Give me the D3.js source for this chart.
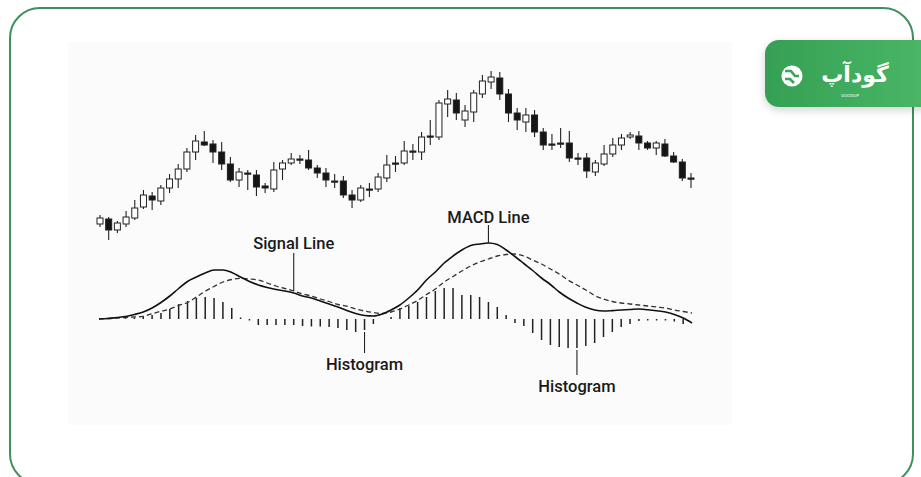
<!DOCTYPE html>
<html lang="en">
<head>
<meta charset="UTF-8">
<title>MACD Chart</title>
<script src="https://d3js.org/d3.v7.min.js"></script>
<style>
  html, body { margin: 0; padding: 0; background: #fff; }
  svg { display: block; }
  .label { font-family: Roboto, "Liberation Sans", sans-serif; font-size: 16.5px; font-weight: 500; fill: #1a1a1a; }
</style>
</head>
<body>
<svg id="chart" width="921" height="477"></svg>
<script>
// candle data (price units, higher = up)
var opens  = [26,31,20,26,32,43,54,49,62,71,81,98,108,106,98,86,70,77,75,64,61,81,87,91,90,82,77,69,69,55,50,61,61,72,87,87,99,98,114,113,146,150,130,138,156,168,172,156,137,128,135,118,106,107,107,92,92,78,86,96,105,113,114,107,102,106,94,88,72];
var closes = [32,20,27,33,42,55,50,62,71,81,98,109,105,98,86,70,78,76,63,62,80,87,91,90,82,77,70,68,55,50,62,60,73,85,86,99,98,113,113,147,151,137,139,157,169,173,156,137,130,135,118,105,105,106,92,91,79,87,96,105,112,115,107,102,107,94,88,72,71];
var highs  = [35,33,29,39,50,60,58,65,76,86,102,115,119,110,108,93,82,80,80,67,88,90,97,95,100,85,82,76,74,60,65,67,77,95,94,109,106,118,130,150,160,157,145,160,175,179,178,161,142,142,140,122,116,122,119,97,97,90,105,112,116,118,119,109,109,111,98,91,77];
var lows   = [23,10,17,23,30,41,40,45,57,62,78,90,104,87,80,68,63,60,54,57,58,70,85,86,80,72,63,62,52,42,48,53,58,68,78,85,90,90,105,110,133,130,123,128,152,161,150,128,120,118,113,100,100,102,88,85,72,74,84,93,100,111,100,100,95,93,87,69,62];

// MACD panel data
var macdLine   = [0,0.5,1.5,2.5,4.5,7,11,16.5,23,30.5,37.5,42,46,49,49,46.5,42,37.5,34,31.5,29.5,28,26,23,21,18,15,12,8.5,5.4,3.5,3,5,9,14,21,29,39,47,56,63,69,73.5,75,76,74.5,69,62.5,55.5,48.5,41,34.5,27,21,16,11.7,9,8,8.4,9,9.5,10,9.3,8.3,7,4.5,1,-4];
var signalLine = [0,0.5,1,1.5,2,2.7,5.3,7.7,10,13.5,16.5,22,27.7,32.5,37,39.5,40.6,40,39,36,33,30.5,28,25,23,20,17.5,14.5,12.8,10,8,6.5,5.5,7,10,14,18.5,24.5,30,37,42.5,48,53,57,60,63,64.5,65,63,59,55,50,45,39,34,29,23.5,20,17.5,16,15,14,13,12,11,9,7.5,6];
var histogram  = [0,0,0,0.8,1.2,2,4,6,10,15,18,21,22,21,17,11,1.5,-1.5,-6,-6,-6,-6,-6,-7,-7.5,-7.5,-8,-9,-11,-13,-11,-5,0,2,11,13,17,22,28,31,31,24,24,22,17,12,4,-4,-7,-14,-21,-26,-28,-29,-29,-27,-24,-18,-13,-8,-5,-2,-1.5,-1.5,-1.5,-2.5,-5,0];

// annotations: text, series, index
var labelTexts   = ["Signal Line", "MACD Line", "Histogram", "Histogram"];
var labelSeries  = ["signal", "macd", "hist", "hist"];
var labelIndex   = [22, 44, 30, 54];

var svg = d3.select("#chart");

// card
svg.append("rect")
  .attr("x", 10).attr("y", 8).attr("width", 903).attr("height", 476)
  .attr("rx", 30).attr("fill", "#fff")
  .attr("stroke", "#3f8f5f").attr("stroke-width", 2);

// faint plot panel
svg.append("rect")
  .attr("x", 68).attr("y", 42).attr("width", 664).attr("height", 383)
  .attr("fill", "#fbfbfb");

var defs = svg.append("defs");
var grad = defs.append("linearGradient").attr("id", "badgeGrad")
  .attr("x1", "0%").attr("x2", "100%");
grad.append("stop").attr("offset", "0%").attr("stop-color", "#35a053");
grad.append("stop").attr("offset", "100%").attr("stop-color", "#4bb868");
var shadow = defs.append("filter").attr("id", "shadow")
  .attr("x", "-20%").attr("y", "-30%").attr("width", "140%").attr("height", "170%");
shadow.append("feDropShadow").attr("dx", 0).attr("dy", 3).attr("stdDeviation", 4)
  .attr("flood-color", "#000").attr("flood-opacity", 0.18);

// scales
var n = opens.length;
var x = d3.scaleLinear().domain([0, n - 1]).range([100, 691]);
var y = d3.scaleLinear().domain([0, 180]).range([250, 70]);
var xm = d3.scaleLinear().domain([0, macdLine.length - 1]).range([99, 692]);
var ym = d3.scaleLinear().domain([-40, 80]).range([359, 239]);

var candles = d3.range(n).map(function(i) {
  return { i: i, o: opens[i], c: closes[i], h: highs[i], l: lows[i] };
});

var bodyW = 6;
var cg = svg.append("g");
cg.selectAll("line.wick").data(candles).join("line")
  .attr("x1", function(d) { return x(d.i); })
  .attr("x2", function(d) { return x(d.i); })
  .attr("y1", function(d) { return y(d.h); })
  .attr("y2", function(d) { return y(d.l); })
  .attr("stroke", "#222").attr("stroke-width", 1.1);

cg.selectAll("rect.body").data(candles).join("rect")
  .attr("x", function(d) { return x(d.i) - bodyW / 2; })
  .attr("y", function(d) { return y(Math.max(d.o, d.c)); })
  .attr("width", bodyW)
  .attr("height", function(d) { return Math.max(1.2, Math.abs(y(d.o) - y(d.c))); })
  .attr("fill", function(d) { return d.c > d.o ? "#fff" : "#151515"; })
  .attr("stroke", "#222").attr("stroke-width", 1);

// histogram
var hg = svg.append("g");
hg.selectAll("line").data(histogram.map(function(v, i) { return { i: i, v: v }; })
    .filter(function(d) { return d.v !== 0; }))
  .join("line")
  .attr("x1", function(d) { return xm(d.i); })
  .attr("x2", function(d) { return xm(d.i); })
  .attr("y1", ym(0))
  .attr("y2", function(d) { return ym(d.v); })
  .attr("stroke", "#222").attr("stroke-width", 1.5);

// lines
var line = d3.line()
  .x(function(d, i) { return xm(i); })
  .y(function(d) { return ym(d); })
  .curve(d3.curveMonotoneX);

svg.append("path").datum(signalLine)
  .attr("d", line).attr("fill", "none")
  .attr("stroke", "#333").attr("stroke-width", 1.3)
  .attr("stroke-dasharray", "5,3");

svg.append("path").datum(macdLine)
  .attr("d", line).attr("fill", "none")
  .attr("stroke", "#111").attr("stroke-width", 1.6);

// annotations
var ag = svg.append("g");
labelTexts.forEach(function(t, k) {
  var i = labelIndex[k];
  var px = xm(i);
  if (labelSeries[k] === "signal") {
    ag.append("line").attr("x1", px).attr("x2", px)
      .attr("y1", 253).attr("y2", ym(signalLine[i]))
      .attr("stroke", "#222").attr("stroke-width", 1.1);
    ag.append("text").attr("class", "label").attr("x", px).attr("y", 249)
      .attr("text-anchor", "middle").text(t);
  } else if (labelSeries[k] === "macd") {
    ag.append("line").attr("x1", px).attr("x2", px)
      .attr("y1", 225).attr("y2", ym(macdLine[i]))
      .attr("stroke", "#222").attr("stroke-width", 1.1);
    ag.append("text").attr("class", "label").attr("x", px).attr("y", 223)
      .attr("text-anchor", "middle").text(t);
  } else {
    var top = ym(histogram[i]) + 2;
    var bottom = top + 21;
    if (k === 3) bottom = top + 25;
    ag.append("line").attr("x1", px).attr("x2", px)
      .attr("y1", top).attr("y2", bottom)
      .attr("stroke", "#222").attr("stroke-width", 1.1);
    ag.append("text").attr("class", "label").attr("x", px).attr("y", bottom + 17)
      .attr("text-anchor", "middle").text(t);
  }
});

// logo badge
var badge = svg.append("g");
badge.append("rect")
  .attr("x", 765).attr("y", 40).attr("width", 175).attr("height", 67)
  .attr("rx", 14).attr("fill", "url(#badgeGrad)").attr("filter", "url(#shadow)");
badge.append("circle").attr("cx", 792).attr("cy", 76).attr("r", 10.5).attr("fill", "#fff");
badge.append("path")
  .attr("d", "M785,71 L791,71 L795,76 L799,76 M785,79 L790,79 L794,83")
  .attr("fill", "none").attr("stroke", "#3aa457").attr("stroke-width", 2.6);
badge.append("text")
  .attr("x", 855).attr("y", 82).attr("text-anchor", "middle")
  .attr("direction", "rtl")
  .style("font-family", "'DejaVu Sans', sans-serif").style("font-weight", "bold")
  .style("font-size", "22px").attr("fill", "#fff")
  .text("گودآپ");
badge.append("text")
  .attr("x", 850).attr("y", 97).attr("text-anchor", "middle")
  .style("font-family", "'DejaVu Sans', sans-serif").style("font-size", "4px")
  .attr("fill", "#fff").text("GOODUP");
</script>
</body>
</html>
